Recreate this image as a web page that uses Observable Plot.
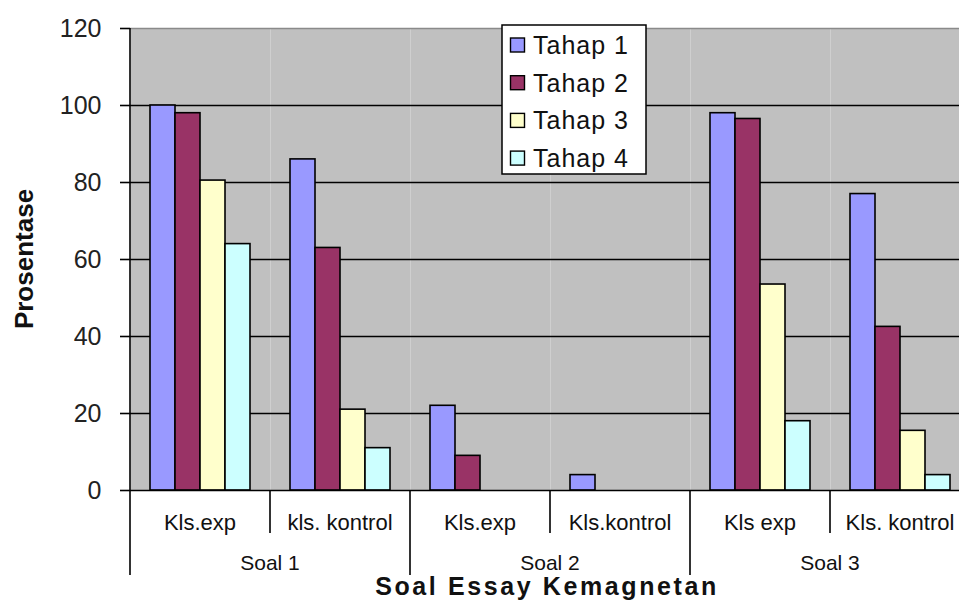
<!DOCTYPE html>
<html><head><meta charset="utf-8">
<script src="https://cdn.jsdelivr.net/npm/d3@7"></script>
<script src="https://cdn.jsdelivr.net/npm/@observablehq/plot@0.6"></script>
<style>
html,body{margin:0;padding:0;background:#fff;overflow:hidden;}
#chart{width:959px;height:601px;overflow:hidden;}
#chart svg{max-width:none !important;}
</style></head><body><div id="chart"></div>
<script>
// ---- data ----
const soals = ["Soal 1", "Soal 2", "Soal 3"];
const kelas = ["Kls.exp", "kls. kontrol", "Kls.exp", "Kls.kontrol", "Kls exp", "Kls. kontrol"];
const kelasSoal = [0, 0, 1, 1, 2, 2];
const tahap = ["Tahap 1", "Tahap 2", "Tahap 3", "Tahap 4"];
const tahap1 = [100, 86, 22, 4, 98, 77];
const tahap2 = [98, 63, 9, 0, 96.5, 42.5];
const tahap3 = [80.5, 21, 0, 0, 53.5, 15.5];
const tahap4 = [64, 11, 0, 0, 18, 4];
const yTicks = [0, 20, 40, 60, 80, 100, 120];
const colors = ["#9999FF", "#993366", "#FFFFCC", "#CCFFFF"];
const yLabel = "Prosentase";
const xLabel = "Soal Essay Kemagnetan";

const groups = kelas.map((k, i) => `${soals[kelasSoal[i]]}|${i}|${k}`);
const series = [tahap1, tahap2, tahap3, tahap4];
const data = [];
series.forEach((vals, t) => vals.forEach((v, i) => data.push({group: groups[i], tahap: tahap[t], value: v})));

const font = '"Liberation Sans", Arial, sans-serif';

const plot = Plot.plot({
  width: 970, height: 601,
  marginLeft: 130, marginRight: 0, marginTop: 28, marginBottom: 111,
  style: {fontFamily: font, background: "transparent", overflow: "visible", maxWidth: "none"},
  fx: {domain: groups, padding: 0, axis: null, label: null},
  x: {domain: tahap, paddingInner: 0, paddingOuter: 0.72, axis: null},
  y: {domain: [0, 120], axis: null},
  color: {domain: tahap, range: colors},
  marks: [
    Plot.frame({fill: "#c0c0c0"}),
    Plot.ruleY(yTicks.filter(d => d > 0 && d < 120), {stroke: "#000", strokeWidth: 1.6}),
    Plot.ruleY([yTicks[yTicks.length - 1]], {stroke: "#8a8a8a", strokeWidth: 1.5}),
    Plot.barY(data.filter(d => d.value > 0), {fx: "group", x: "tahap", y: "value", fill: "tahap", stroke: "#000", strokeWidth: 1.6}),
    Plot.ruleY([0], {stroke: "#000", strokeWidth: 1.6}),
    Plot.axisY({ticks: yTicks, tickSize: 10, tickPadding: 19, fontSize: 25, label: null, stroke: "#000", strokeWidth: 1.6, fill: "#222"})
  ]
});
document.getElementById("chart").appendChild(plot);

// ---- hierarchical category axis, titles, legend ----
const svg = d3.select(plot);
const fx = plot.scale("fx");
const y = plot.scale("y");
const bw = fx.bandwidth;
const y0 = y.apply(0);
const yTop = y.apply(120);
const g = svg.append("g").attr("font-family", font);

// y axis line extending through category area
g.append("line").attr("x1", fx.apply(groups[0])).attr("x2", fx.apply(groups[0]))
  .attr("y1", yTop).attr("y2", y0 + 85).attr("stroke", "#000").attr("stroke-width", 1.6);

groups.forEach((grp, i) => {
  const x = fx.apply(grp);
  if (i > 0) {
    const long = kelasSoal[i] !== kelasSoal[i - 1];
    g.append("line").attr("x1", x).attr("x2", x).attr("y1", y0).attr("y2", y0 + (long ? 85 : 43))
      .attr("stroke", "#000").attr("stroke-width", 1.6);
  }
  g.append("text").attr("x", x + bw / 2).attr("y", y0 + 40).attr("text-anchor", "middle")
    .attr("font-size", 22).attr("fill", "#111").text(kelas[i]);
});

soals.forEach((s, si) => {
  const idx = kelasSoal.map((v, i) => v === si ? i : -1).filter(i => i >= 0);
  const x1 = fx.apply(groups[idx[0]]);
  const x2 = fx.apply(groups[idx[idx.length - 1]]) + bw;
  g.append("text").attr("x", (x1 + x2) / 2).attr("y", y0 + 80).attr("text-anchor", "middle")
    .attr("font-size", 21).attr("fill", "#111").text(s);
});

g.append("text").attr("x", 547).attr("y", y0 + 105).attr("text-anchor", "middle")
  .attr("font-size", 25).attr("font-weight", "bold").attr("letter-spacing", 2.6).attr("fill", "#111").text(xLabel);

g.append("text").attr("transform", `translate(33,${(y0 + yTop) / 2}) rotate(-90)`).attr("text-anchor", "middle")
  .attr("font-size", 26).attr("font-weight", "bold").attr("fill", "#111").text(yLabel);

// legend
const color = plot.scale("color");
const lg = g.append("g").attr("transform", "translate(502,25)");
lg.append("rect").attr("width", 144).attr("height", 149).attr("fill", "#fff").attr("stroke", "#000").attr("stroke-width", 1.5);
color.domain.forEach((d, i) => {
  const cy = 20 + i * 37.7;
  lg.append("rect").attr("x", 8.5).attr("y", cy - 7).attr("width", 14).attr("height", 14)
    .attr("fill", color.range[i]).attr("stroke", "#000").attr("stroke-width", 1.4);
  lg.append("text").attr("x", 31).attr("y", cy + 9).attr("text-anchor", "start").attr("font-size", 25).attr("letter-spacing", 1)
    .attr("fill", "#111").text(d);
});
</script>
</body></html>
